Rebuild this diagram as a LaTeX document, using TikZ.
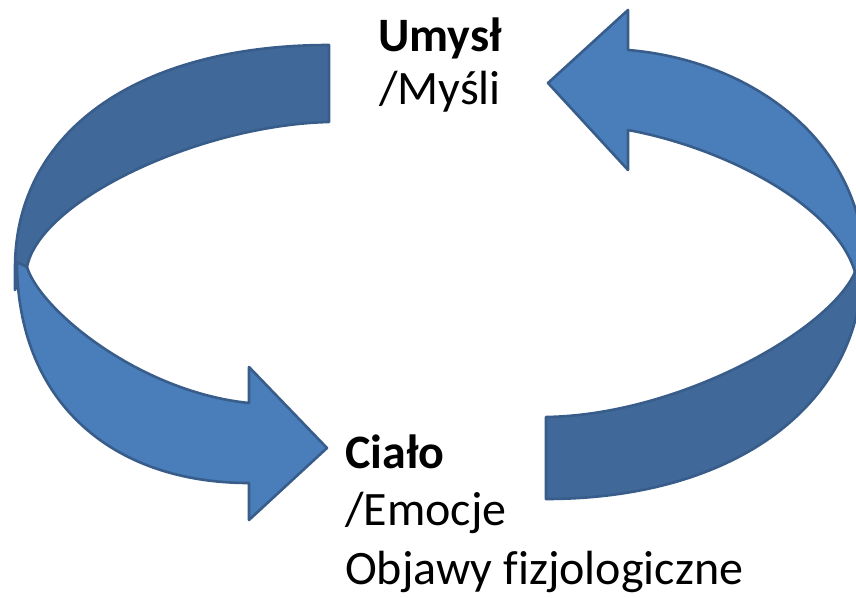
\documentclass[tikz,border=0pt]{standalone}
\usepackage{fontspec}
\setmainfont{Carlito}[Ligatures=NoCommon]
\definecolor{frontblue}{HTML}{4A7EBB}
\definecolor{backblue}{HTML}{406898}
\definecolor{edgeblue}{HTML}{385D8A}
\begin{document}
\begin{tikzpicture}[x=1pt,y=-1pt,
  front/.style={fill=frontblue,draw=edgeblue,line width=2.6pt,line join=round},
  back/.style={fill=backblue,draw=edgeblue,line width=2.6pt,line join=round},
  lbl/.style={anchor=base west,inner sep=0pt,font=\fontsize{48}{57}\selectfont}]
\useasboundingbox (0,0) rectangle (856,597);
\begin{scope}
\clip (0,0) rectangle (856,597);
% left arrow: back band (upper)
\path[back] (329,45) .. controls (140,45) and (15,130) .. (15,268) -- (15,290) -- (27,267)
  .. controls (40,200) and (200,125) .. (329,122) -- cycle;
% left arrow: front band (lower) with head
\path[front] (17,262) .. controls (17,400) and (110,483) .. (249,483) -- (249,520) -- (327,448)
  -- (249,367) -- (249,403) .. controls (140,392) and (40,310) .. (27,267) -- cycle;
% right arrow: back band (lower)
\path[back] (546,417) -- (546,499) .. controls (740,499) and (862,400) .. (862,268) -- (862,250)
  -- (855,272) .. controls (830,330) and (680,415) .. (546,417) -- cycle;
% right arrow: front band (upper) with head
\path[front] (855,272) .. controls (835,205) and (725,148) .. (628,130) -- (628,170) -- (548,83)
  -- (628,10) -- (628,50) .. controls (750,60) and (865,140) .. (865,272) -- cycle;
\end{scope}
\node[lbl] (umysl) at (378,51) {\bfseries Umysł};
\node[lbl] (mysli) at (379,104) {/Myśli};
\node[lbl] (cialo) at (345,468) {\bfseries Ciało};
\node[lbl] (emocje) at (345,525) {/Emocje};
\node[lbl] (objawy) at (345,584) {Objawy fizjologiczne};
\end{tikzpicture}
\end{document}
